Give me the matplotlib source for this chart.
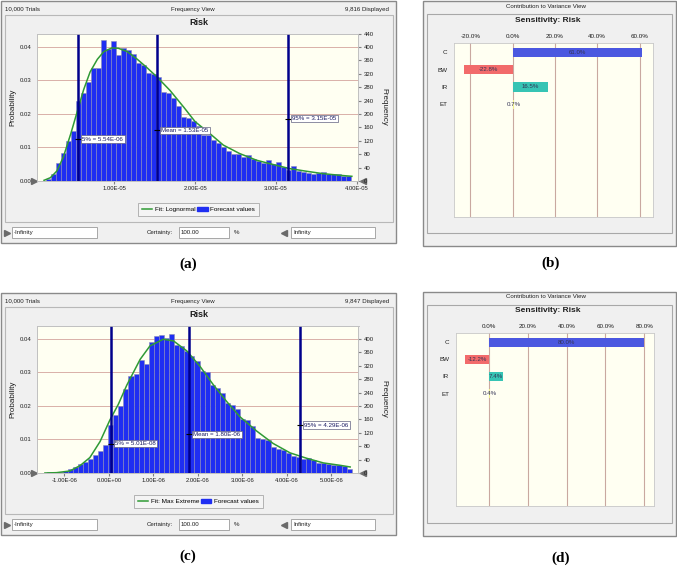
import matplotlib
matplotlib.use('Agg')
import matplotlib.pyplot as plt
from matplotlib.patches import Rectangle, Patch
from matplotlib.lines import Line2D
import numpy as np

plt.rcParams['font.family'] = ['Liberation Sans', 'DejaVu Sans']

W, H = 677, 569

# ---- (a) forecast, lognormal fit ----
a_trials = '10,000 Trials'
a_shown = '9,816 Displayed'
a_bin_lo, a_bin_w = 0.15e-5, 0.062e-5
a_freq = [5, 20, 55, 85, 118, 148, 239, 262, 296, 337,
          338, 421, 395, 418, 375, 397, 392, 380, 352, 345,
          322, 318, 310, 266, 262, 248, 225, 190, 188, 180,
          165, 138, 136, 122, 112, 100, 90, 82, 80, 72,
          78, 65, 60, 53, 62, 50, 57, 42, 33, 44,
          30, 27, 25, 20, 25, 26, 21, 22, 22, 16, 14]
# fitted curve (x in 1E-05, y in trials)
a_fit_x = [0.13, 0.21, 0.29, 0.37, 0.46, 0.54, 0.62, 0.70, 0.79, 0.87, 0.97, 1.05,
           1.16, 1.28, 1.40, 1.53, 1.69, 1.86, 2.00, 2.18, 2.35, 2.55, 2.76, 3.00,
           3.17, 3.38, 3.58, 3.79, 3.94]
a_fit_y = [2, 10, 30, 72, 140, 206, 272, 325, 363, 386, 397, 396,
           386, 364, 339, 310, 270, 220, 177, 142, 107, 82, 62, 47,
           37, 29, 22, 17, 14]
a_fit_name = 'Fit: Lognormal'
a_stats = [5.54e-6, 1.53e-5, 3.15e-5]
a_xticks = [1e-5, 2e-5, 3e-5, 4e-5]

# ---- (c) forecast, max extreme fit ----
c_trials = '10,000 Trials'
c_shown = '9,847 Displayed'
c_bin_lo, c_bin_w = -1.50e-6, 0.114e-6
c_freq = [1, 2, 2, 4, 7, 11, 18, 26, 33, 43,
          55, 66, 84, 143, 173, 200, 250, 290, 295, 338,
          325, 390, 410, 413, 402, 416, 383, 380, 364, 350,
          333, 303, 300, 262, 253, 240, 208, 203, 192, 162,
          158, 141, 103, 100, 98, 78, 72, 69, 60, 52,
          47, 43, 44, 38, 30, 29, 26, 24, 23, 20, 13]
# x in 1E-06
c_fit_x = [-1.44, -1.18, -0.88, -0.65, -0.43, -0.20, 0.02, 0.21, 0.40, 0.70, 0.92,
           1.22, 1.45, 1.75, 2.04, 2.34, 2.64, 2.94, 3.32, 3.69, 4.07, 4.44,
           4.82, 5.19, 5.42]
c_fit_y = [0, 1, 6, 22, 46, 94, 158, 205, 262, 339, 379,
           399, 394, 364, 319, 264, 214, 168, 125, 88, 60, 44,
           30, 23, 18]
c_fit_name = 'Fit: Max Extreme'
c_stats = [5.01e-8, 1.80e-6, 4.29e-6]
c_xticks = [-1e-6, 0, 1e-6, 2e-6, 3e-6, 4e-6, 5e-6]

stat_names = ['5%', 'Mean', '95%']

# ---- (b), (d) sensitivity ----
sens_vars = ['C', 'BW', 'IR', 'ET']
b_contrib = [61.0, -22.8, 16.5, 0.7]
b_ticks = [-20, 0, 20, 40, 60]
d_contrib = [80.0, -12.2, 7.4, 0.4]
d_ticks = [0, 20, 40, 60, 80]
sens_colors = ['#4b58e0', '#f26b6b', '#36c4b4', '#eef08a']

BLUE = '#1f2ef2'
GREEN = '#2f9a35'


def frac(x0, y0, x1, y1):
    return [x0 / W, 1 - y1 / H, (x1 - x0) / W, (y1 - y0) / H]


fig = plt.figure(figsize=(W / 100, H / 100), dpi=100)
bg = fig.add_axes([0, 0, 1, 1])
bg.set_xlim(0, W)
bg.set_ylim(H, 0)
bg.axis('off')


def box(x0, y0, x1, y1, fc='#f0f0f0', ec='#a8a8a8', lw=0.8):
    bg.add_patch(Rectangle((x0, y0), x1 - x0, y1 - y0, fc=fc, ec=ec, lw=lw))


def txt(x, y, s, **kw):
    kw.setdefault('fontsize', 4.4)
    kw.setdefault('va', 'center')
    kw.setdefault('color', '#1e1e1e')
    bg.text(x, y, s, **kw)


def hist_panel(dy, freq, lo, w, fit_x, fit_y, unit, fit_name, stats, stat_y,
               xlim, xticks, rtop, trials, shown, tag, tag_x):
    box(1, 1 + dy, 396, 243 + dy, ec='#8a8a8a', lw=1.0)
    box(5, 15 + dy, 393, 221.5 + dy, ec='#b8b8b8')
    txt(5, 9 + dy, trials)
    txt(193, 9 + dy, 'Frequency View', ha='center')
    txt(389, 9 + dy, shown, ha='right')
    txt(199, 22.5 + dy, 'Risk', ha='center', fontsize=6.5, fontweight='bold')
    txt(13, 107 + dy, 'Probability', ha='center', rotation=90, fontsize=5.8)
    txt(384, 107 + dy, 'Frequency', ha='center', rotation=270, fontsize=5.8)

    ax = fig.add_axes(frac(37.3, 33.5 + dy, 358.5, 181 + dy))
    ax.set_facecolor('#fffff2')
    edges = lo + w * np.arange(len(freq))
    ax.bar(edges, freq, width=w, align='edge', color=BLUE,
           edgecolor='#8c8cb8', lw=0.4, zorder=2)
    ax.plot(np.array(fit_x) * unit, fit_y, color=GREEN, lw=1.1, zorder=3)
    for s, name, y in zip(stats, stat_names, stat_y):
        ax.axvline(s, color='#00008c', lw=1.8, zorder=4)
        ax.plot([s], [y], marker='_', ms=5, mew=0.8, color='black', zorder=5)
        ax.annotate(f'{name} = {s:.2E}', (s, y), xytext=(3, 0),
                    textcoords='offset points', ha='left', va='center',
                    fontsize=4.4, color='#1a1a60', zorder=5,
                    bbox=dict(boxstyle='square,pad=0.2', fc='white',
                              ec='#606080', lw=0.5))
    ax.set_xlim(xlim)
    ax.set_ylim(0, 440)
    ax.set_xticks(xticks)
    ax.set_xticklabels([f'{t:.2E}' for t in xticks])
    ax.set_yticks([0, 100, 200, 300, 400])
    ax.set_yticklabels(['0.00', '0.01', '0.02', '0.03', '0.04'])
    ax.yaxis.grid(True, color='#d9b0a8', lw=0.7)
    ax.set_axisbelow(True)
    ax.tick_params(axis='x', length=2, pad=1.5, labelsize=4.2,
                   color='#808080', labelcolor='#1e1e1e')
    ax.tick_params(axis='y', length=0, pad=4, labelsize=4.3, labelcolor='#1e1e1e')
    ax2 = ax.twinx()
    ax2.set_ylim(0, 440)
    ax2.set_yticks(range(0, rtop + 1, 40))
    ax2.tick_params(length=2, pad=1.5, labelsize=4.3, color='#808080',
                    labelcolor='#1e1e1e')
    for a in (ax, ax2):
        for sp in a.spines.values():
            sp.set_color('#c0c0c0')
            sp.set_linewidth(0.6)

    bg.plot(34, 181 + dy, marker='>', ms=5, color='#6a6a6a')
    bg.plot(363, 181 + dy, marker='<', ms=5, color='#6a6a6a')

    handles = [Line2D([], [], color=GREEN, lw=1.1), Patch(fc=BLUE, ec=BLUE)]
    leg = ax.legend(handles, [fit_name, 'Forecast values'], loc='center',
                    bbox_to_anchor=(198.5, 209.7 + dy), bbox_transform=bg.transData,
                    ncol=2, fontsize=4.6, frameon=True, fancybox=False,
                    edgecolor='#a8a8a8', facecolor='#f4f4f4', framealpha=1,
                    handlelength=1.6, handletextpad=0.4, columnspacing=0.3,
                    borderpad=0.6)
    leg.get_frame().set_linewidth(0.6)

    cy = 232.7 + dy
    bg.plot(6.5, cy, marker='>', ms=5, color='#6a6a6a')
    box(11.7, cy - 5.5, 96.7, cy + 5.5, fc='white', ec='#9a9a9a', lw=0.6)
    txt(13.5, cy, '-Infinity')
    txt(160, cy, 'Certainty:', ha='center')
    box(179.3, cy - 5.5, 229.3, cy + 5.5, fc='white', ec='#9a9a9a', lw=0.6)
    txt(181, cy, '100.00')
    txt(236.7, cy, '%', ha='center')
    bg.plot(284, cy, marker='<', ms=5, color='#6a6a6a')
    box(291, cy - 5.5, 375, cy + 5.5, fc='white', ec='#9a9a9a', lw=0.6)
    txt(293, cy, 'Infinity')

    txt(tag_x, 264.5 + dy, tag, ha='center', fontsize=11, fontweight='bold',
        family='Liberation Serif', color='black')


def sens_panel(outer, inner, plot, vals, xlim, ticks, ylo, hdr_y, title_y, tag, tag_xy):
    box(*outer, ec='#8a8a8a', lw=1.0)
    box(*inner, ec='#a8a8a8')
    txt(546, hdr_y, 'Contribution to Variance View', ha='center')
    txt(548, title_y, 'Sensitivity: Risk', ha='center', fontsize=6,
        fontweight='bold')
    ax = fig.add_axes(frac(*plot))
    ax.set_facecolor('#fffff2')
    pos = np.arange(len(vals))
    ax.barh(pos, vals, height=0.54, color=sens_colors, zorder=3)
    for p, v in zip(pos, vals):
        ax.text(v / 2, p, f'{v:.1f}%', ha='center', va='center', fontsize=4.4,
                color='#333355', zorder=4)
    ax.set_xlim(xlim)
    ax.set_ylim(ylo, -0.56)
    ax.set_xticks(ticks)
    ax.set_xticklabels([f'{t:.1f}%' for t in ticks])
    ax.xaxis.tick_top()
    ax.xaxis.grid(True, color='#c9a8a0', lw=0.8)
    ax.set_axisbelow(True)
    ax.set_yticks(pos)
    ax.set_yticklabels(sens_vars)
    ax.tick_params(length=0, labelsize=4.5, pad=3, labelcolor='#1e1e1e')
    ax.tick_params(axis='y', pad=5)
    for sp in ax.spines.values():
        sp.set_color('#c8c8c8')
        sp.set_linewidth(0.6)
    txt(tag_xy[0], tag_xy[1], tag, ha='center', fontsize=11, fontweight='bold',
        family='Liberation Serif', color='black')


hist_panel(0, a_freq, a_bin_lo, a_bin_w, a_fit_x, a_fit_y, 1e-5, a_fit_name,
           a_stats, [125, 151, 186], (0.047e-5, 4.022e-5), a_xticks, 440,
           a_trials, a_shown, '(a)', 188)
hist_panel(292, c_freq, c_bin_lo, c_bin_w, c_fit_x, c_fit_y, 1e-6, c_fit_name,
           c_stats, [88, 115, 143], (-1.611e-6, 5.607e-6), c_xticks, 400,
           c_trials, c_shown, '(c)', 188)

sens_panel((423, 0.5, 675.5, 246), (426.5, 13.5, 672, 232.7),
           (454.3, 42.7, 652.7, 216.7), b_contrib, (-27.6, 66.2), b_ticks,
           9.5, 6.7, 20.7, '(b)', (550.7, 263.3))
sens_panel((423.3, 291.7, 675.5, 535.7), (426.5, 305, 672, 522.7),
           (456, 332.7, 654, 506), d_contrib, (-17, 85), d_ticks,
           9.57, 296.7, 310.7, '(d)', (561, 558.3))

fig.savefig('out.png', dpi=100)
